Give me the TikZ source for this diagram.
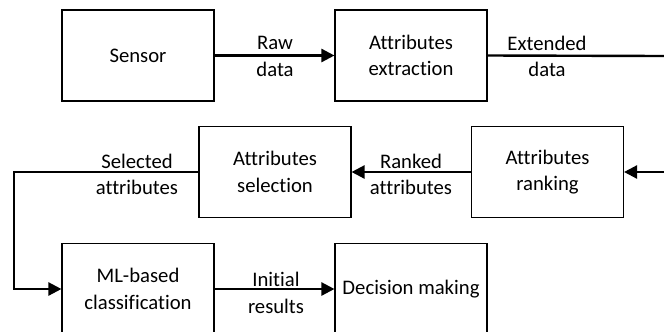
\documentclass[tikz,border=0pt]{standalone}
\usepackage{fontspec}
\setmainfont{Carlito}[Ligatures=NoCommon]
\usetikzlibrary{arrows.meta}
\begin{document}
\begin{tikzpicture}[x=1bp,y=-1bp,
  box/.style={draw=black, line width=1.1bp, minimum width=152bp, minimum height=91bp, inner sep=0pt, align=center, font=\fontsize{20.7bp}{26.5bp}\selectfont},
  lbl/.style={align=center, inner sep=0pt, font=\fontsize{20.7bp}{26.5bp}\selectfont},
  conn/.style={line width=2.4bp},
  arr/.style={conn, -{Triangle[length=13bp,width=13bp]}}]
\useasboundingbox (0,0) rectangle (664,331);
\node[box] (sensor) at (138,55.5) {Sensor};
\node[box] (extr) at (411,55.5) {Attributes\\extraction};
\node[box] (sel) at (275,172) {Attributes\\selection};
\node[box] (rank) at (547.5,172) {Attributes\\ranking};
\node[box] (ml) at (138,289) {ML-based\\classification};
\node[box] (dec) at (411,289) {Decision making};
\coordinate (outR) at (664,56);
\coordinate (inR) at (664,172);
\coordinate (turn) at (14,172);
\draw[arr] (sensor.east) -- (extr.west);
\draw[conn] (extr.east) -- (outR);
\draw[arr] (inR) -- (rank.east);
\draw[arr] (rank.west) -- (sel.east);
\draw[arr] (sel.west) -- (turn) |- (ml.west);
\draw[arr] (ml.east) -- (dec.west);
\node[lbl] (l1) at (275,56.5) {Raw\\data};
\node[lbl] (l2) at (547,56.5) {Extended\\data};
\node[lbl] (l3) at (411,174.5) {Ranked\\attributes};
\node[lbl] (l4) at (137,174.5) {Selected\\attributes};
\node[lbl] (l5) at (276,293) {Initial\\results};
\end{tikzpicture}
\end{document}
